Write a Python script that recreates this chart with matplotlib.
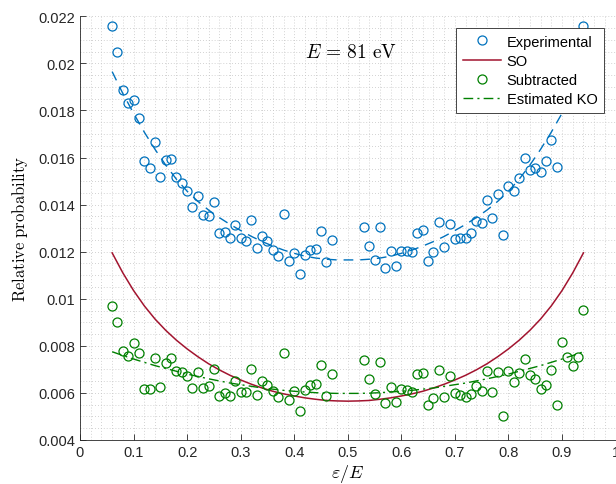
import matplotlib
matplotlib.use('Agg')
import matplotlib.pyplot as plt
from matplotlib.ticker import MultipleLocator, FormatStrFormatter
import numpy as np

plt.rcParams['font.family'] = ['Liberation Sans', 'DejaVu Sans']
plt.rcParams['mathtext.fontset'] = 'cm'

# energy sharing points (gap around 0.5)
eps = [0.06, 0.07, 0.08, 0.09, 0.10, 0.11, 0.12, 0.13, 0.14, 0.15,
       0.16, 0.17, 0.18, 0.19, 0.20, 0.21, 0.22, 0.23, 0.24, 0.25,
       0.26, 0.27, 0.28, 0.29, 0.30, 0.31, 0.32, 0.33, 0.34, 0.35,
       0.36, 0.37, 0.38, 0.39, 0.40, 0.41, 0.42, 0.43, 0.44, 0.45,
       0.46, 0.47,
       0.53, 0.54, 0.55, 0.56, 0.57, 0.58, 0.59, 0.60, 0.61, 0.62,
       0.63, 0.64, 0.65, 0.66, 0.67, 0.68, 0.69, 0.70, 0.71, 0.72,
       0.73, 0.74, 0.75, 0.76, 0.77, 0.78, 0.79, 0.80, 0.81, 0.82,
       0.83, 0.84, 0.85, 0.86, 0.87, 0.88, 0.89, 0.90, 0.91, 0.92,
       0.93, 0.94]

experimental = [0.0216, 0.0205, 0.01886, 0.0183, 0.01846, 0.01769, 0.01587, 0.01555, 0.01665, 0.01516,
                0.01591, 0.01594, 0.01519, 0.01492, 0.01459, 0.01389, 0.01438, 0.01355, 0.01353, 0.0141,
                0.01279, 0.01282, 0.01258, 0.01313, 0.01257, 0.01247, 0.01336, 0.01217, 0.01267, 0.01245,
                0.01207, 0.01182, 0.0136, 0.01159, 0.01193, 0.01104, 0.01186, 0.01207, 0.0121, 0.01289,
                0.01156, 0.01248,
                0.01304, 0.01224, 0.01163, 0.01304, 0.01131, 0.01204, 0.0114, 0.01203, 0.01202, 0.01197,
                0.01281, 0.01292, 0.01162, 0.01197, 0.01325, 0.01219, 0.01318, 0.01255, 0.01258, 0.01258,
                0.01281, 0.01329, 0.01321, 0.0142, 0.01343, 0.01445, 0.01272, 0.0148, 0.01458, 0.01513,
                0.01597, 0.01547, 0.01555, 0.0154, 0.01587, 0.01676, 0.01558, 0.0186, 0.01855, 0.0186,
                0.01903, 0.0216]

subtracted = [0.00968, 0.0090, 0.00778, 0.00758, 0.00811, 0.00768, 0.00615, 0.00615, 0.00747, 0.00625,
              0.00726, 0.0075, 0.00694, 0.0069, 0.00672, 0.0062, 0.0069, 0.0062, 0.00629, 0.00702,
              0.00586, 0.00598, 0.00587, 0.00649, 0.00605, 0.00605, 0.00702, 0.00592, 0.00649, 0.00635,
              0.00607, 0.00583, 0.00768, 0.00571, 0.00608, 0.00525, 0.00611, 0.00632, 0.00639, 0.0072,
              0.00588, 0.00682,
              0.0074, 0.00658, 0.00594, 0.00733, 0.00556, 0.00626, 0.0056, 0.00617, 0.00611, 0.00603,
              0.0068, 0.00685, 0.00549, 0.00577, 0.00697, 0.00583, 0.00672, 0.00601, 0.00591, 0.00583,
              0.00594, 0.00629, 0.00609, 0.00694, 0.00603, 0.0069, 0.00501, 0.00692, 0.00646, 0.00685,
              0.00745, 0.00675, 0.00658, 0.00618, 0.00635, 0.00696, 0.00547, 0.00816, 0.00753, 0.00713,
              0.00753, 0.00954]

# smooth curves, sampled every 0.02
curve_x = [0.06, 0.08, 0.10, 0.12, 0.14, 0.16, 0.18, 0.20, 0.22, 0.24, 0.26, 0.28,
           0.30, 0.32, 0.34, 0.36, 0.38, 0.40, 0.42, 0.44, 0.46, 0.48, 0.50,
           0.52, 0.54, 0.56, 0.58, 0.60, 0.62, 0.64, 0.66, 0.68, 0.70, 0.72,
           0.74, 0.76, 0.78, 0.80, 0.82, 0.84, 0.86, 0.88, 0.90, 0.92, 0.94]

so_curve = [0.01195, 0.01110, 0.01035, 0.00970, 0.00914, 0.00866, 0.00824, 0.00787, 0.00754, 0.00724,
            0.00698, 0.00675, 0.00655, 0.00637, 0.00621, 0.00607, 0.00596, 0.00587, 0.00579, 0.00573,
            0.00568, 0.00566, 0.00565,
            0.00566, 0.00568, 0.00573, 0.00579, 0.00587, 0.00596, 0.00607, 0.00621, 0.00637, 0.00655,
            0.00675, 0.00698, 0.00724, 0.00754, 0.00787, 0.00824, 0.00866, 0.00914, 0.00970, 0.01035,
            0.01110, 0.01195]

exp_fit = [0.01965, 0.01872, 0.01788, 0.01708, 0.01635, 0.01568, 0.01508, 0.01457, 0.01414, 0.01377,
           0.01345, 0.01316, 0.01290, 0.01265, 0.01243, 0.01224, 0.01207, 0.01193, 0.01181, 0.01173,
           0.01168, 0.01165, 0.01165,
           0.01165, 0.01168, 0.01173, 0.01181, 0.01193, 0.01207, 0.01224, 0.01243, 0.01265, 0.01290,
           0.01316, 0.01345, 0.01377, 0.01414, 0.01457, 0.01508, 0.01568, 0.01635, 0.01708, 0.01788,
           0.01872, 0.01965]

ko_fit = [0.00775, 0.00759, 0.00744, 0.00730, 0.00716, 0.00704, 0.00692, 0.00680, 0.00670, 0.00660,
          0.00651, 0.00642, 0.00635, 0.00628, 0.00621, 0.00616, 0.00611, 0.00607, 0.00604, 0.00601,
          0.00599, 0.00598, 0.00598,
          0.00598, 0.00599, 0.00601, 0.00604, 0.00607, 0.00611, 0.00616, 0.00621, 0.00628, 0.00635,
          0.00642, 0.00651, 0.00660, 0.00670, 0.00680, 0.00692, 0.00704, 0.00716, 0.00730, 0.00744,
          0.00759, 0.00775]

blue = '#0072BD'
red = '#A2142F'
green = '#008000'

fig = plt.figure(figsize=(6.16, 4.85), dpi=100)
ax = fig.add_axes([80 / 616, 1 - 441 / 485, 535.6 / 616, 423.7 / 485])

ax.plot(curve_x, exp_fit, color=blue, lw=1.0, ls=(0, (7, 5)))
ax.plot(eps, experimental, 'o', mfc='none', mec=blue, ms=6.5, mew=0.9, label='Experimental')
ax.plot(curve_x, so_curve, color=red, lw=1.1, label='SO')
ax.plot(eps, subtracted, 'o', mfc='none', mec=green, ms=6.5, mew=0.9, label='Subtracted')
ax.plot(curve_x, ko_fit, color=green, lw=1.0, ls=(0, (7, 3, 1.5, 3)), label='Estimated KO')

ax.set_xlim(0, 1)
ax.set_ylim(0.004, 0.022)
ax.xaxis.set_major_locator(MultipleLocator(0.1))
ax.yaxis.set_major_locator(MultipleLocator(0.002))
ax.xaxis.set_minor_locator(MultipleLocator(0.02))
ax.yaxis.set_minor_locator(MultipleLocator(0.0005))
ax.xaxis.set_major_formatter(FormatStrFormatter('%g'))
ax.yaxis.set_major_formatter(FormatStrFormatter('%g'))
ax.tick_params(which='major', direction='in', length=4, width=0.6, labelsize=10.5,
               colors='#262626')
ax.tick_params(which='minor', length=0)
# MATLAB-like light dotted grid
ax.grid(which='both', color='#c4c4c4', ls=(0, (1, 2.5)), lw=0.6)
ax.set_axisbelow(True)

for s in ['top', 'right']:
    ax.spines[s].set_visible(False)
for s in ['left', 'bottom']:
    ax.spines[s].set_linewidth(0.6)
    ax.spines[s].set_color('#262626')

ax.set_xlabel(r'$\varepsilon/E$', fontsize=13, labelpad=2)
ax.set_ylabel(r'$\mathrm{Relative\ probability}$', fontsize=12, labelpad=6)
ax.text(0.42, 0.0205, r'$E\,=\,81\ \mathrm{eV}$', fontsize=14, va='center')

leg = ax.legend(loc='upper right', bbox_to_anchor=(0.978, 0.9724), fontsize=10.5,
                fancybox=False, framealpha=1, edgecolor='#262626', borderaxespad=0,
                handlelength=2.6, labelspacing=0.36, borderpad=0.45, handletextpad=0.4)
leg.get_frame().set_linewidth(0.6)

plt.savefig('out.png', dpi=100)
